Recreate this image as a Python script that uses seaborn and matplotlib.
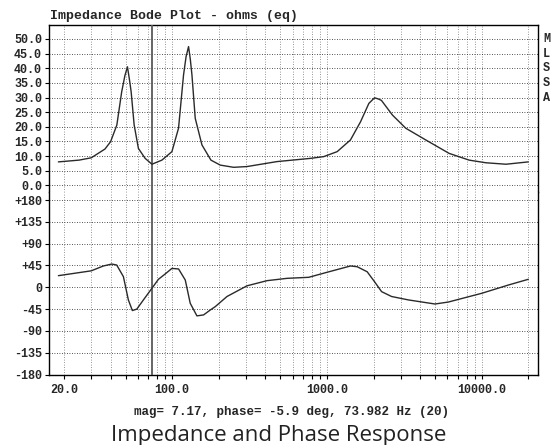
import numpy as np
import pandas as pd
import matplotlib
matplotlib.use("Agg")
import matplotlib.pyplot as plt
from matplotlib.ticker import FixedLocator, LogLocator, NullFormatter
import seaborn as sns

# impedance magnitude (ohms)
mag_freq = [18.4, 25, 30, 36.8, 40, 43.9, 47.2, 49.5, 51.4, 53, 54.3, 56.8, 60.5, 66.9, 74.0,
            85.8, 99.6, 109.9, 118.4, 123, 127.6, 131, 134.2, 140.9, 155.7, 178, 204.5,
            249.5, 304, 475, 782, 953, 1164, 1419, 1648, 1866, 2030, 2150, 2250, 2650,
            3230, 4350, 6160, 8300, 10640, 14350, 20000]
mag_ohm = [8.0, 8.6, 9.4, 12.4, 14.9, 20.6, 32.0, 37.5, 40.5, 36.0, 32.0, 20.6, 12.6, 9.2, 7.2,
           8.6, 11.5, 19.5, 37.7, 44.0, 47.4, 43.0, 37.7, 22.9, 13.8, 8.6, 6.9,
           6.15, 6.4, 8.1, 9.2, 9.8, 11.5, 15.5, 21.7, 28.0, 29.9, 29.5, 29.0, 24.0,
           19.5, 15.5, 10.9, 8.6, 7.7, 7.2, 8.0]

# phase (deg)
ph_freq = [18.4, 30, 35.9, 40.7, 43.8, 48.4, 52.1, 55.3, 59.1, 65.2, 74.0, 81.5, 90.1,
           99.6, 110, 121.5, 130.8, 144.5, 159.6, 176, 189.7, 226, 304, 410, 553, 762,
           1002, 1419, 1567, 1820, 2030, 2255, 2615, 3350, 4990, 6090, 10000, 14870, 20000]
ph_deg = [24, 34, 44, 48, 46, 22, -26, -48, -45, -26, -2, 16.5, 27.5,
          39, 37.8, 15, -33, -59, -57, -47, -40, -19, 3, 13.7, 18.5, 20.6,
          31, 44, 42.5, 32, 11.5, -9, -19, -26, -34.5, -30.4, -12.4, 4.7, 16.5]

mag_ticks = [0, 5, 10, 15, 20, 25, 30, 35, 40, 45, 50]
ph_ticks = [-180, -135, -90, -45, 0, 45, 90, 135, 180]
ph_labels = ["-180", "-135", "-90", "-45", "0", "+45", "+90", "+135", "+180"]
x_ticks = [20, 100, 1000, 10000]
x_labels = ["20.0", "100.0", "1000.0", "10000.0"]
side_letters = ["M", "L", "S", "S", "A"]
cursor_hz = 73.982

sns.set_theme(style="white")
plt.rcParams['font.family'] = ['Liberation Mono', 'DejaVu Sans Mono']
plt.rcParams['font.weight'] = 'bold'

W, H = 553, 445
fig = plt.figure(figsize=(W / 100, H / 100), dpi=100)
L, R = 49 / W, 538 / W
ax_m = fig.add_axes([L, 1 - 192 / H, R - L, (192 - 25) / H])
ax_p = fig.add_axes([L, 1 - 374.5 / H, R - L, (374.5 - 192) / H], sharex=ax_m)

df_m = pd.DataFrame({"f": mag_freq, "v": mag_ohm})
df_p = pd.DataFrame({"f": ph_freq, "v": ph_deg})
sns.lineplot(data=df_m, x="f", y="v", ax=ax_m, color="#2a2a2a", lw=1.0, sort=False, zorder=5)
sns.lineplot(data=df_p, x="f", y="v", ax=ax_p, color="#2a2a2a", lw=1.0, sort=False, zorder=5)

for ax in (ax_m, ax_p):
    ax.set_xscale("log")
    ax.set_xlim(16.0, 23100)
    ax.set_xlabel("")
    ax.set_ylabel("")
    ax.xaxis.set_major_locator(FixedLocator(x_ticks))
    ax.xaxis.set_minor_locator(LogLocator(base=10, subs=np.arange(2, 10)))
    ax.xaxis.set_minor_formatter(NullFormatter())
    ax.grid(True, which="both", axis="x", color="0.45", lw=0.6, ls=(0, (1, 2)))
    ax.grid(True, which="major", axis="y", color="0.1", lw=0.6, ls=(0, (1, 2)))
    ax.axvline(cursor_hz, color="0.35", lw=1.3, zorder=4)
    for s in ax.spines.values():
        s.set_color("black")
        s.set_linewidth(1.0)
    ax.tick_params(axis="y", which="major", left=True, length=3, width=0.8,
                   labelsize=8.5, pad=2, color="black")
    ax.tick_params(axis="x", which="both", bottom=True, length=3, width=0.8,
                   labelsize=8.5, color="black")
    ax.set_facecolor("white")

ax_m.set_ylim(-2.29, 54.78)
ax_m.set_yticks(mag_ticks)
ax_m.set_yticklabels([f"{t:.1f}" for t in mag_ticks])
ax_m.spines["bottom"].set_visible(False)
ax_m.tick_params(axis="x", which="both", bottom=False, labelbottom=False)

ax_p.set_ylim(-180, 196.7)
ax_p.set_yticks(ph_ticks)
ax_p.set_yticklabels(ph_labels)
ax_p.spines["top"].set_visible(False)
ax_p.set_xticklabels(x_labels)

for i, ch in enumerate(side_letters):
    ax_m.text(1.01, 50 - 5 * i, ch, transform=ax_m.get_yaxis_transform(),
              va="center", ha="left", fontsize=8.5, fontweight="bold")

fig.text(50 / W, 1 - 16 / H, "Impedance Bode Plot - ohms (eq)", fontsize=9.5,
         fontweight="bold", va="center", ha="left")
fig.text(292 / W, 1 - 412.5 / H, "mag= 7.17, phase= -5.9 deg, 73.982 Hz (20)",
         fontsize=9, fontweight="bold", va="center", ha="center")
fig.text(279 / W, 4 / H, "Impedance and Phase Response", fontsize=16,
         family=["Open Sans", "DejaVu Sans"], fontweight="normal",
         va="baseline", ha="center", color="#222222")

fig.savefig("out.png", dpi=100)
